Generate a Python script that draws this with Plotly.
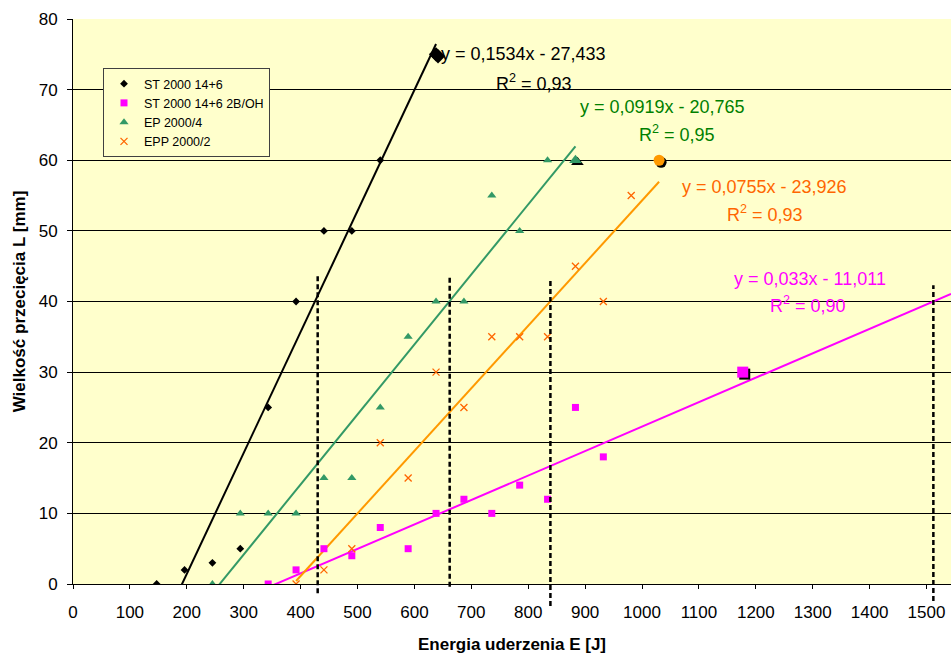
import numpy as np
import plotly.graph_objects as go

# ---------------- data ----------------
series_names = ["ST 2000 14+6", "ST 2000 14+6 2B/OH", "EP 2000/4", "EPP 2000/2"]

st_x = [147, 196, 245, 294, 343, 392, 441, 490, 540]
st_y = [0, 2, 3, 5, 25, 40, 50, 50, 60]

stoh_x = [343, 392, 441, 490, 540, 589, 638, 687, 736, 785, 834, 883, 932]
stoh_y = [0, 2, 5, 4, 8, 5, 10, 12, 10, 14, 12, 25, 18]

ep_x = [245, 294, 343, 392, 441, 490, 540, 589, 638, 687, 736, 785, 834]
ep_y = [0, 10, 10, 10, 15, 15, 25, 35, 40, 40, 55, 50, 60]

epp_x = [392, 441, 490, 540, 589, 638, 687, 736, 785, 834, 883, 932, 981]
epp_y = [0, 2, 5, 20, 15, 30, 25, 35, 35, 35, 45, 40, 55]

# final (highlighted) points
final_x = [638, 1177, 883, 1030]
final_y = [75, 30, 60, 60]

# trendline forward forecast (J)
trend_forward = [0, 400, 0, 0]

# equations displayed
eq_text = ["y = 0,1534x - 27,433", "y = 0,033x - 11,011", "y = 0,0919x - 20,765", "y = 0,0755x - 23,926"]
r2_text = ["R<sup>2</sup> = 0,93", "R<sup>2</sup> = 0,90", "R<sup>2</sup> = 0,95", "R<sup>2</sup> = 0,93"]

# energies at L = 40 mm (dashed markers)
e40 = [430, 662, 839, 1512]
e40_top = [43.6, 43.6, 42.9, 42.3]
e40_bottom = [-1.3, -0.4, -3.1, -2.4]

x_ticks = list(range(0, 1600, 100))
y_ticks = list(range(0, 90, 10))

# ---------------- style ----------------
line_colors = ["#000000", "#FF00FF", "#339966", "#FF9900"]
marker_colors = ["#000000", "#FF00FF", "#339966", "#FF6600"]
text_colors = ["#000000", "#FF00FF", "#008000", "#FF6600"]
symbols = ["diamond", "square", "triangle-up", "x-thin"]
final_symbols = ["diamond", "square", "triangle-up", "circle"]
final_colors = ["#000000", "#FF00FF", "#339966", "#FF9900"]
FONT = "Liberation Sans, Arial, sans-serif"

X_MAX = 1543
Y_MAX = 80
L, T, B, R = 73, 19, 70, 0
W, H = 951, 654
plot_w = W - L - R
plot_h = H - T - B

def px_to_paper(px, py):
    return (px - L) / plot_w, (H - B - py) / plot_h

xs_all = [st_x, stoh_x, ep_x, epp_x]
ys_all = [st_y, stoh_y, ep_y, epp_y]

fig = go.Figure()

# trend lines
for i in range(4):
    xx = np.array(xs_all[i] + [final_x[i]], dtype=float)
    yy = np.array(ys_all[i] + [final_y[i]], dtype=float)
    a, b = np.polyfit(xx, yy, 1)
    x0, x1 = xx.min(), min(xx.max() + trend_forward[i], X_MAX)
    lx = np.array([x0, x1])
    fig.add_trace(go.Scatter(x=lx, y=a * lx + b, mode="lines",
                             line=dict(color=line_colors[i], width=2),
                             showlegend=False, hoverinfo="skip"))

# data markers
sizes = [6, 7, 8, 7]
for i in range(4):
    mk = dict(symbol=symbols[i], color=marker_colors[i], size=sizes[i])
    if symbols[i] == "x-thin":
        mk["line"] = dict(color=marker_colors[i], width=1.3)
    else:
        mk["line"] = dict(width=0)
    fig.add_trace(go.Scatter(x=xs_all[i], y=ys_all[i], mode="markers",
                             marker=mk, name=series_names[i]))

# final highlighted points with shadow
dx = 2.0 * X_MAX / plot_w
dy = -2.0 * Y_MAX / plot_h
fig.add_trace(go.Scatter(x=[v + dx for v in final_x], y=[v + dy for v in final_y], mode="markers",
                         marker=dict(symbol=final_symbols, color="#000000", size=11, line=dict(width=0)),
                         showlegend=False, hoverinfo="skip", cliponaxis=False))
fig.add_trace(go.Scatter(x=final_x, y=final_y, mode="markers",
                         marker=dict(symbol=final_symbols, color=final_colors, size=11, line=dict(width=0)),
                         showlegend=False, hoverinfo="skip", cliponaxis=False))

# dashed vertical lines
for xv, yt, yb in zip(e40, e40_top, e40_bottom):
    fig.add_shape(type="line", xref="x", yref="paper", x0=xv, x1=xv,
                  y0=yb / Y_MAX, y1=yt / Y_MAX,
                  line=dict(color="#000000", width=2.5, dash="5px,3px"))

# equation annotations (pixel centre positions)
eq_pos = [(523, 54), (810, 279), (662, 107), (764, 187)]
r2_pos = [(534, 82), (808, 304), (677, 133), (765, 213)]
for i in range(4):
    for txt, (pxx, pyy) in ((eq_text[i], eq_pos[i]), (r2_text[i], r2_pos[i])):
        ax_, ay_ = px_to_paper(pxx, pyy)
        fig.add_annotation(x=ax_, y=ay_, xref="paper", yref="paper", text=txt,
                           showarrow=False, xanchor="center", yanchor="middle",
                           font=dict(family=FONT, size=18, color=text_colors[i]))

lx0, ly0 = px_to_paper(103, 68)
fig.update_layout(
    width=W, height=H,
    margin=dict(l=L, r=R, t=T, b=B, autoexpand=False),
    paper_bgcolor="#FFFFFF",
    plot_bgcolor="#FFFFCC",
    font=dict(family=FONT, size=17, color="#000000"),
    legend=dict(x=lx0, y=ly0, xanchor="left", yanchor="top",
                bgcolor="#FFFFCC", bordercolor="#404040", borderwidth=1,
                font=dict(size=12.5), itemwidth=30, tracegroupgap=0),
    xaxis=dict(range=[0, X_MAX], tickvals=x_ticks, ticktext=[str(v) for v in x_ticks],
               showgrid=False, zeroline=False, showline=True, linecolor="#000000", linewidth=1,
               ticks="outside", ticklen=4, tickcolor="#000000", ticklabeloverflow="allow",
               ticklabelstandoff=9,
               title=dict(text="<b>Energia uderzenia E [J]</b>", font=dict(size=17), standoff=17)),
    yaxis=dict(range=[0, Y_MAX], tickvals=y_ticks, ticktext=[str(v) for v in y_ticks],
               showgrid=True, gridcolor="#000000", gridwidth=1, zeroline=False,
               showline=True, linecolor="#000000", linewidth=1,
               ticks="outside", ticklen=5, tickcolor="#000000", ticklabelstandoff=6,
               title=dict(text="<b>Wielkość przecięcia L [mm]</b>", font=dict(size=17), standoff=8)),
    showlegend=True,
)

fig.write_html("out.html", config={"displayModeBar": False},
               post_script="document.body.style.margin='0';document.body.style.overflow='hidden';")
